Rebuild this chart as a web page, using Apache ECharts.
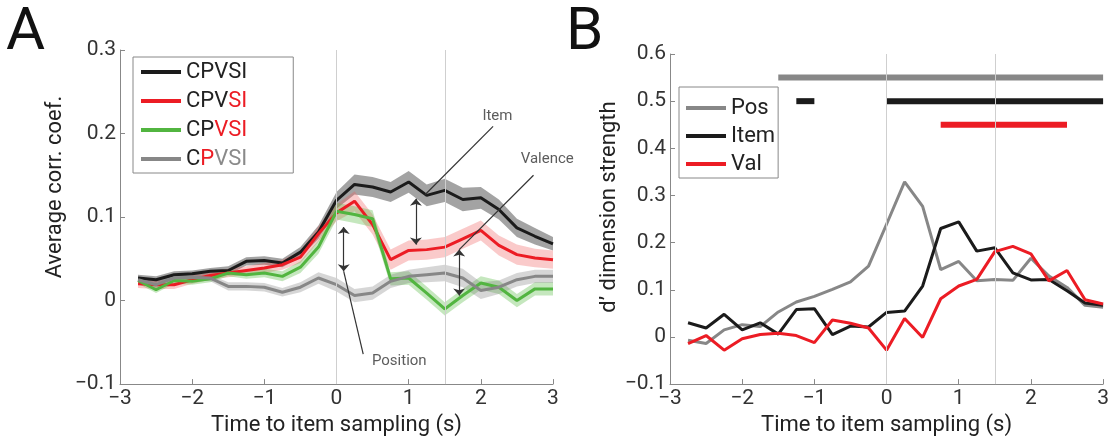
<!DOCTYPE html>
<html><head><meta charset="utf-8">
<script src="https://cdn.jsdelivr.net/npm/echarts@6/dist/echarts.min.js"></script>
<style>html,body{margin:0;padding:0;background:#fff}#c{width:1112px;height:441px}</style>
</head><body><div id="c"></div>
<script>
// ---------- data ----------
const times = [-2.75,-2.5,-2.25,-2,-1.75,-1.5,-1.25,-1,-0.75,-0.5,-0.25,0,0.25,0.5,0.75,1,1.25,1.5,1.75,2,2.25,2.5,2.75,3];

// Panel A: average correlation coefficient (mean and s.e.m.)
const cpvsiMean = [0.027,0.025,0.031,0.032,0.035,0.036,0.047,0.048,0.045,0.058,0.082,0.120,0.139,0.136,0.130,0.142,0.126,0.132,0.121,0.123,0.109,0.087,0.077,0.068];
const cpvsiSem  = [0.004,0.004,0.004,0.004,0.004,0.005,0.005,0.005,0.005,0.006,0.008,0.010,0.012,0.012,0.012,0.013,0.013,0.014,0.014,0.013,0.012,0.011,0.010,0.008];
const noSIMean  = [0.020,0.019,0.019,0.025,0.030,0.033,0.036,0.039,0.043,0.052,0.080,0.105,0.119,0.091,0.049,0.060,0.061,0.064,0.074,0.084,0.066,0.055,0.051,0.049];
const noSISem   = [0.005,0.005,0.005,0.005,0.005,0.005,0.005,0.006,0.006,0.007,0.009,0.010,0.012,0.012,0.012,0.012,0.012,0.012,0.012,0.012,0.012,0.012,0.011,0.011];
const noVSIMean = [0.024,0.013,0.024,0.023,0.026,0.033,0.031,0.033,0.029,0.040,0.064,0.107,0.103,0.098,0.026,0.027,0.009,-0.010,0.006,0.021,0.016,0.000,0.014,0.014];
const noVSISem  = [0.004,0.004,0.004,0.004,0.004,0.004,0.005,0.005,0.006,0.007,0.008,0.010,0.010,0.010,0.008,0.008,0.008,0.008,0.008,0.008,0.008,0.008,0.008,0.008];
const cOnlyMean = [0.025,0.019,0.027,0.028,0.027,0.017,0.017,0.016,0.010,0.016,0.027,0.019,0.006,0.009,0.023,0.029,0.031,0.033,0.027,0.012,0.016,0.025,0.029,0.029];
const cOnlySem  = [0.004,0.004,0.004,0.004,0.004,0.005,0.005,0.005,0.005,0.006,0.007,0.008,0.008,0.008,0.008,0.008,0.009,0.010,0.011,0.010,0.008,0.008,0.008,0.008];

// Panel B: d' dimension strength
const posD  = [-0.007,-0.014,0.015,0.026,0.022,0.053,0.074,0.086,0.101,0.117,0.150,0.239,0.329,0.277,0.143,0.160,0.119,0.122,0.120,0.167,0.129,0.105,0.067,0.063];
const itemD = [0.030,0.019,0.048,0.015,0.030,0.006,0.058,0.060,0.005,0.023,0.021,0.052,0.055,0.108,0.230,0.244,0.182,0.189,0.136,0.121,0.122,0.098,0.072,0.067];
const valD  = [-0.014,0.003,-0.028,-0.004,0.005,0.008,0.003,-0.012,0.036,0.029,0.019,-0.028,0.039,-0.001,0.081,0.108,0.122,0.181,0.192,0.176,0.119,0.141,0.079,0.070];

// significance bars in B: [series, level, from, to]
const sigBars = [['Pos',0.55,-1.5,3],['Item',0.50,-1.25,-1.0],['Item',0.50,0,3],['Val',0.45,0.75,2.5]];

// annotations in A
const annotLabels = [['Item',2.23,0.221],['Valence',2.92,0.169],['Position',0.87,-0.073]];
const annotArrows = [[0.1,0.088,0.035],[1.1,0.122,0.067],[1.7,0.061,0.006]];
const annotPointers = [[2.17,0.2085,1.23,0.127],[2.73,0.150,1.70,0.061],[0.10,0.035,0.37,-0.064]];

const refLines = [0, 1.5];
const xTitle = 'Time to item sampling (s)';
const yTitleA = 'Average corr. coef.';
const yTitleB = 'd’ dimension strength';

// ---------- styling ----------
const FONT = 'Roboto, "Liberation Sans", sans-serif';
const COL = {black:'#1b1b1b', red:'#ec1c24', green:'#52b540', gray:'#878787'};
const BAND = {black:'rgba(35,35,35,0.42)', red:'rgba(240,90,90,0.32)', green:'rgba(90,185,70,0.35)', gray:'rgba(120,120,120,0.30)'};

const seriesA = [
  {name:'CPVSI_all', mean:cpvsiMean, sem:cpvsiSem, c:'black', parts:[['CPVSI','k']]},
  {name:'CPV_SI',    mean:noSIMean,  sem:noSISem,  c:'red',   parts:[['CPV','k'],['SI','r']]},
  {name:'CP_VSI',    mean:noVSIMean, sem:noVSISem, c:'green', parts:[['CP','k'],['VSI','r']]},
  {name:'C_P_VSI',   mean:cOnlyMean, sem:cOnlySem, c:'gray',  parts:[['C','k'],['P','r'],['VSI','g']]}
];
const seriesB = [
  {name:'Pos', d:posD, c:'gray'},
  {name:'Item', d:itemD, c:'black'},
  {name:'Val', d:valD, c:'red'}
];

const fmtNum = v => String(Math.round(v*10)/10).replace('-', '\u2212');
const fmtX = v => String(v).replace('-', '\u2212');

function xAxis(grid){
  return {gridIndex:grid, type:'value', min:-3, max:3, interval:1,
    axisLine:{show:true, onZero:false, lineStyle:{color:'#888', width:1}},
    axisTick:{inside:true, length:5, lineStyle:{color:'#888'}},
    splitLine:{show:false},
    axisLabel:{fontSize:21, color:'#333', fontFamily:FONT, margin:4, formatter:fmtX},
    name:xTitle, nameLocation:'middle', nameGap:27,
    nameTextStyle:{fontSize:22, color:'#222', fontFamily:FONT}};
}
function yAxis(grid, min, max, title, gap, pad){
  return {gridIndex:grid, type:'value', min:min, max:max, interval:0.1,
    axisLine:{show:true, onZero:false, lineStyle:{color:'#888', width:1}},
    axisTick:{inside:true, length:5, lineStyle:{color:'#888'}},
    splitLine:{show:false},
    axisLabel:{fontSize:21, color:'#333', fontFamily:FONT, margin:4, formatter:fmtNum},
    name:title, nameLocation:'middle', nameGap:gap, nameRotate:90,
    nameTextStyle:{fontSize:22, color:'#222', fontFamily:FONT, padding:pad}};
}

const series = [];
// reference lines
[0,1].forEach(g => series.push({type:'line', xAxisIndex:g, yAxisIndex:g, data:[], silent:true, z:0,
  markLine:{silent:true, symbol:'none', label:{show:false}, lineStyle:{color:'#cfcfcf', width:1, type:'solid'},
    data: refLines.map(x => ({xAxis:x}))}}));

// error bands A (polygon through the axis scales)
seriesA.forEach(s => {
  series.push({type:'custom', xAxisIndex:0, yAxisIndex:0, silent:true, z:1,
    data: times.map((t,j)=>[t, s.mean[j]-s.sem[j], s.mean[j]+s.sem[j]]),
    renderItem: (params, api) => {
      if (params.dataIndex !== 0) return null;
      const up = times.map((t,j)=>api.coord([t, s.mean[j]+s.sem[j]]));
      const lo = times.map((t,j)=>api.coord([t, s.mean[j]-s.sem[j]])).reverse();
      return {type:'polygon', shape:{points: up.concat(lo)}, style:{fill:BAND[s.c]}};
    }});
});
// lines A
seriesA.forEach(s => series.push({name:s.name, type:'line', xAxisIndex:0, yAxisIndex:0, z:3, symbol:'none',
  lineStyle:{color:COL[s.c], width:3}, itemStyle:{color:COL[s.c]},
  data: times.map((t,j)=>[t, s.mean[j]])}));

// annotations A
const mlData = [];
annotArrows.forEach(a => mlData.push([{coord:[a[0],a[1]], symbol:'arrow'},{coord:[a[0],a[2]], symbol:'arrow'}]));
annotPointers.forEach(p => mlData.push([{coord:[p[0],p[1]], symbol:'none'},{coord:[p[2],p[3]], symbol:'none'}]));
series.push({type:'scatter', xAxisIndex:0, yAxisIndex:0, z:5, silent:true, clip:false, symbolSize:2,
  itemStyle:{color:'rgba(0,0,0,0)'},
  label:{show:true, position:'inside', formatter:'{b}', fontSize:15, color:'#333', fontFamily:FONT},
  data: annotLabels.map(l => ({name:l[0], value:[l[1], l[2]]})),
  markLine:{silent:true, symbolSize:[9,7], label:{show:false}, animation:false,
    lineStyle:{color:'#333', width:1.2, type:'solid'}, data: mlData}});

// lines B
seriesB.forEach(s => series.push({name:s.name, type:'line', xAxisIndex:1, yAxisIndex:1, z:3, symbol:'none',
  lineStyle:{color:COL[s.c], width:3}, itemStyle:{color:COL[s.c]},
  data: times.map((t,j)=>[t, s.d[j]])}));
// significance bars B
sigBars.forEach(b => {
  const c = COL[seriesB.find(s=>s.name===b[0]).c];
  series.push({type:'line', xAxisIndex:1, yAxisIndex:1, z:3, symbol:'none', silent:true, clip:false,
    lineStyle:{color:c, width:6, cap:'butt'}, data:[[b[2], b[1]],[b[3], b[1]]]});
});

const partsMap = {};
seriesA.forEach(s => partsMap[s.name] = s.parts);
const richBase = {fontSize:22, fontFamily:FONT, lineHeight:26};

const option = {
  animation:false,
  backgroundColor:'#fff',
  grid:[
    {left:120, right:559, top:50, bottom:49},
    {left:670, right:6, top:54, bottom:49}
  ],
  xAxis:[xAxis(0), xAxis(1)],
  yAxis:[yAxis(0,-0.1,0.3,yTitleA,54,[0,0,0,60]), yAxis(1,-0.1,0.6,yTitleB,50,[0,0,0,24])],
  legend:[
    {data: seriesA.map(s=>s.name), orient:'vertical', left:133, top:57, icon:'rect', itemWidth:40, itemHeight:4,
     itemGap:7, padding:[4,46,3,8], borderColor:'#888', borderWidth:1, selectedMode:false,
     formatter: n => partsMap[n].map(p => '{'+p[1]+'|'+p[0]+'}').join(''),
     textStyle:{rich:{
       k:Object.assign({color:'#222'}, richBase),
       r:Object.assign({color:COL.red}, richBase),
       g:Object.assign({color:'#8a8a8a'}, richBase)}}},
    {data: seriesB.map(s=>s.name), orient:'vertical', left:679, top:87, icon:'rect', itemWidth:40, itemHeight:4,
     itemGap:2, padding:[8,3,1,7], borderColor:'#888', borderWidth:1, selectedMode:false,
     textStyle:{fontSize:22, fontFamily:FONT, color:'#222', lineHeight:26}}
  ],
  graphic:[
    {type:'text', left:6, top:4, style:{text:'A', fontSize:60, fontFamily:FONT, fill:'#111'}},
    {type:'text', left:566, top:4, style:{text:'B', fontSize:60, fontFamily:FONT, fill:'#111'}}
  ],
  series: series
};
const chart = echarts.init(document.getElementById('c'), null, {renderer:'canvas'});
chart.setOption(option);
</script>
</body></html>
